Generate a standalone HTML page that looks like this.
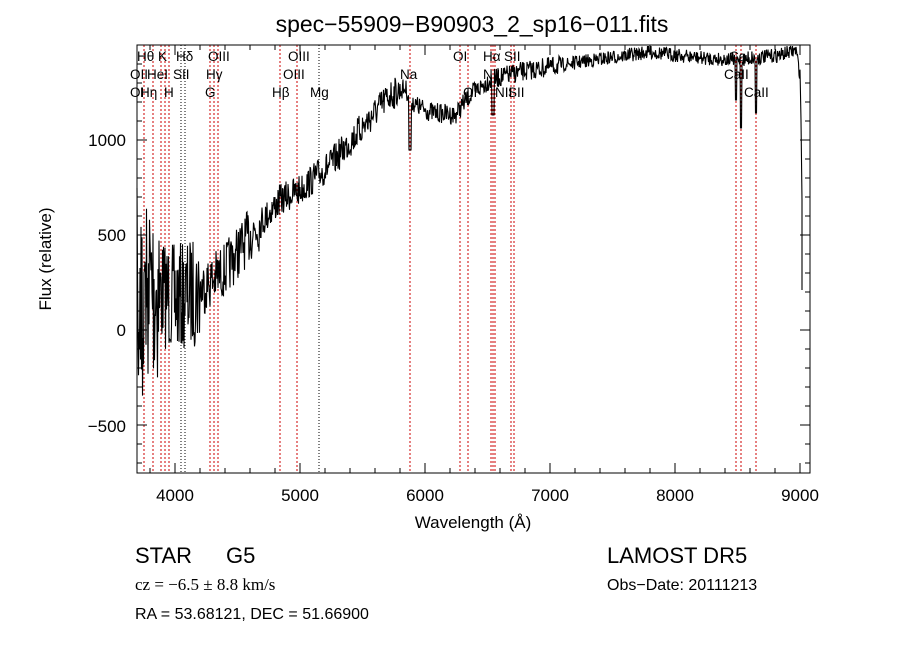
<!DOCTYPE html>
<html><head><meta charset="utf-8"><style>
body{margin:0;background:#fff;width:900px;height:649px;overflow:hidden}
svg text{font-family:"Liberation Sans",sans-serif;fill:#000}
</style></head><body>
<svg id="s" width="900" height="649" xmlns="http://www.w3.org/2000/svg">
<rect width="900" height="649" fill="#fff"/>
<text x="472" y="32" font-size="23" text-anchor="middle">spec−55909−B90903_2_sp16−011.fits</text>
<g id="lines"></g>
<path id="spec" fill="none" stroke="#000" stroke-width="1.1"/>
<rect x="137" y="45" width="673" height="428" fill="none" stroke="#000" stroke-width="1"/>
<g id="ticks" stroke="#000" stroke-width="1"></g>
<g font-size="17">
<text x="175" y="501" text-anchor="middle">4000</text>
<text x="300" y="501" text-anchor="middle">5000</text>
<text x="425" y="501" text-anchor="middle">6000</text>
<text x="550" y="501" text-anchor="middle">7000</text>
<text x="675" y="501" text-anchor="middle">8000</text>
<text x="800" y="501" text-anchor="middle">9000</text>
<text x="126" y="146" text-anchor="end">1000</text>
<text x="126" y="241" text-anchor="end">500</text>
<text x="126" y="336" text-anchor="end">0</text>
<text x="126" y="432" text-anchor="end">−500</text>
<text x="473" y="528" text-anchor="middle">Wavelength (Å)</text>
<text transform="translate(51,259) rotate(-90)" text-anchor="middle">Flux (relative)</text>
</g>
<g font-size="13.5">
<text x="137" y="61">Hθ</text><text x="158" y="61">K</text><text x="176" y="61">Hδ</text><text x="208" y="61">OIII</text><text x="288" y="61">OIII</text>
<text x="130" y="79">OII</text><text x="147" y="79">HeI</text><text x="173" y="79">SII</text><text x="206" y="79">Hγ</text><text x="283" y="79">OIII</text>
<text x="130" y="97">OI</text><text x="140" y="97">Hη</text><text x="164" y="97">H</text><text x="205" y="97">G</text><text x="272" y="97">Hβ</text><text x="310" y="97">Mg</text>
<text x="400" y="79">Na</text><text x="453" y="61">OI</text><text x="483" y="61">Hα</text><text x="504" y="61">SII</text>
<text x="483" y="79">NII</text><text x="463" y="97">OI</text><text x="495" y="97">NII</text><text x="508" y="97">SII</text>
<text x="729" y="61">CaII</text><text x="724" y="79">CaII</text><text x="744" y="97">CaII</text>
</g>
<g font-size="22">
<text x="135" y="563">STAR</text><text x="226" y="563">G5</text>
<text x="607" y="563">LAMOST DR5</text>
</g>
<text x="135" y="590" font-size="17" style="font-family:'Liberation Serif',serif">cz = −6.5 ± 8.8 km/s</text>
<text x="607" y="590" font-size="16">Obs−Date: 20111213</text>
<text x="135" y="619" font-size="16">RA =  53.68121, DEC =  51.66900</text>
</svg>
<script>
var NS="http://www.w3.org/2000/svg";
function el(p,t,a){var e=document.createElementNS(NS,t);for(var k in a)e.setAttribute(k,a[k]);p.appendChild(e);return e;}
var L=document.getElementById('lines');
[137,144,153,161,165,169,210,214,218,280,297,410,460,468,491,493,495,511,514,736,741,756].forEach(function(x){el(L,'line',{x1:x,x2:x,y1:45,y2:473,stroke:'#c00','stroke-dasharray':'2,2','stroke-width':1});});
[181,185,319].forEach(function(x){el(L,'line',{x1:x,x2:x,y1:45,y2:473,stroke:'#000','stroke-dasharray':'1,2','stroke-width':1});});
var T=document.getElementById('ticks');
for(var w=3800;w<=9000;w+=200){var x=137.5+(w-3700)*0.125;var maj=w%1000==0;var l=maj?10:5;
el(T,'line',{x1:x,x2:x,y1:473,y2:473-l});el(T,'line',{x1:x,x2:x,y1:45,y2:45+l});}
for(var f=-700;f<=1500;f+=100){var y=330-f*0.19;if(y<45||y>473)continue;var maj=f%500==0;var l=maj?10:5;
el(T,'line',{x1:137,x2:137+l,y1:y,y2:y});el(T,'line',{x1:810,x2:810-l,y1:y,y2:y});}
var pts=[[137,330],[150,285],[175,300],[200,290],[225,270],[250,235],[280,200],[300,190],[330,165],[360,130],[390,95],[405,88],[415,105],[430,112],[455,115],[470,95],[490,80],[520,72],[580,62],[650,52],[700,58],[740,60],[780,55],[796,50],[800,75]];
function base(x){for(var i=0;i<pts.length-1;i++){if(x<=pts[i+1][0]){var a=pts[i],b=pts[i+1];return a[1]+(b[1]-a[1])*(x-a[0])/(b[0]-a[0]);}}return 75;}
var seed=7;function r(){seed=(seed*16807)%2147483647;return seed/2147483647-0.5;}
var d="";for(var x=137;x<=800;x+=0.5){var n=x<160?200:x<200?110:x<260?55:x<400?32:x<560?20:14;var y=base(x)+r()*n;
if(Math.abs(x-410)<1.5)y=150;if(Math.abs(x-741)<1)y=128;if(Math.abs(x-756)<1)y=113;if(Math.abs(x-736)<1)y=100;
if(Math.abs(x-493)<1.5)y=115;if(x<150&&r()>0.4)y+=r()*200;y=Math.max(46,Math.min(472,y));d+=(d?"L":"M")+x.toFixed(1)+","+y.toFixed(1);}
d+="L801,120L802,200L802,290";
document.getElementById('spec').setAttribute('d',d);
</script>
</body></html>
